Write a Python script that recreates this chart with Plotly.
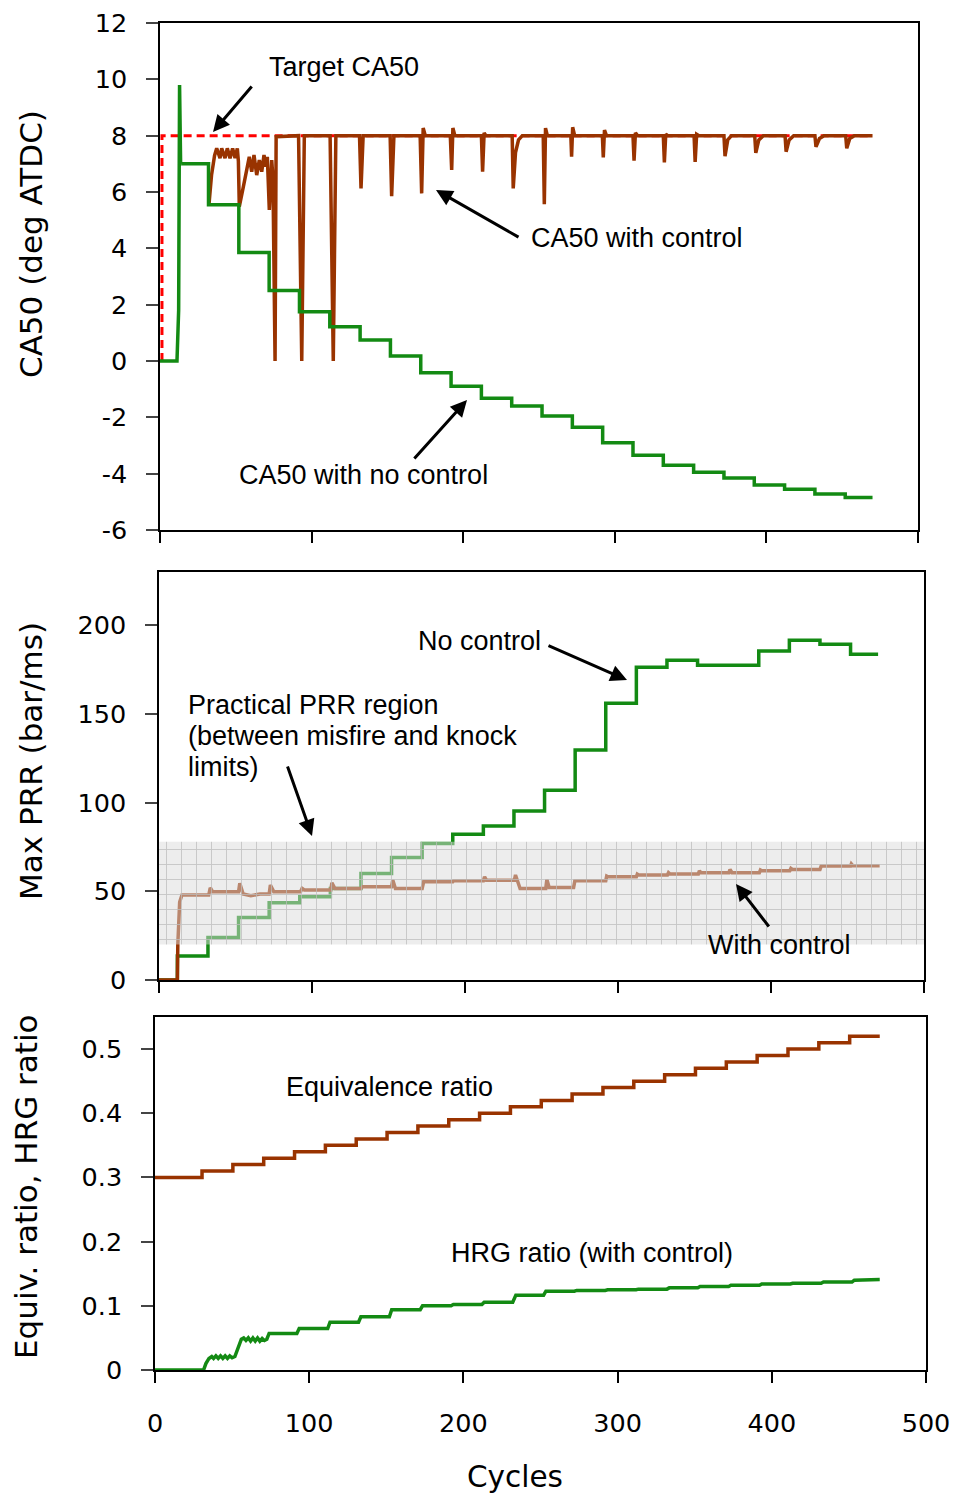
import plotly.graph_objects as go

W, H = 957, 1497

# ---------------- DATA ----------------
# Top panel: CA50 (deg ATDC)
target_x = [1.3, 1.3, 470]
target_y = [0, 8, 8]

nc_spike_x = [0, 11.2, 12.3, 12.9, 13.6, 14.4]
nc_spike_y = [0, 0, 1.8, 9.8, 7.0, 7.0]
nc_step_x = [14.4, 32, 52, 72, 92, 112, 132, 152, 172, 192, 212, 232, 252, 272, 292,
             312, 332, 352, 372, 392, 412, 432, 452, 470]
nc_step_y = [7.0, 5.55, 3.85, 2.5, 1.75, 1.22, 0.75, 0.18, -0.42, -0.9, -1.32, -1.6, -1.95,
             -2.35, -2.9, -3.35, -3.7, -3.95, -4.15, -4.4, -4.55, -4.72, -4.85, -4.85]

ctl_x = [32.3, 34, 36, 37.4, 39.6, 40.7, 42.9, 44.4, 46.2, 47.9, 49.5, 51, 51.7, 52.3,
         55, 57.2, 58.9, 60.5, 62, 63.8, 65.5, 67.1, 68.6, 69.9, 70.8, 72.1, 73.7, 74.5,
         75.9, 76.6, 91.4, 93.5, 95.2, 112.2, 114.3, 116, 131.6, 132.6, 134, 151.8, 152.8,
         154.3, 171.6, 172.6, 173.6, 175, 191.5, 192.4, 193.2, 194.5, 212, 212.8, 213.8,
         215, 232.3, 233, 234.5, 236.5, 239, 252.8, 253.5, 254.3, 255.5, 271, 271.5, 272.2,
         273.5, 291.8, 292.4, 293.2, 294.5, 312, 312.7, 313.6, 315, 332, 332.7, 333.6, 335,
         352.3, 353, 354, 355.5, 372, 372.7, 374.5, 377, 392.3, 393, 395, 398, 412.3, 413,
         415, 418, 432, 432.7, 435, 438, 452.3, 453, 455, 458, 470]
ctl_y = [5.55, 6.6, 7.3, 7.55, 7.2, 7.55, 7.2, 7.55, 7.2, 7.55, 7.2, 7.55, 7.1, 5.48,
         6.19, 6.78, 7.25, 6.72, 7.31, 6.6, 7.13, 6.72, 7.31, 6.9, 7.25, 5.36, 7.13, 6.5,
         0, 7.96, 8, 0, 8, 8, 0, 8, 8, 6.13, 8, 8, 5.85,
         8, 8, 5.95, 8.27, 8.0, 8, 6.78, 8.27, 8, 8, 6.72, 8.1,
         8, 8, 6.13, 7.4, 7.85, 8, 8, 5.57, 8.27, 8, 8, 7.25, 8.3,
         8, 8, 7.23, 8.2, 8, 8, 7.11, 8.1, 8, 8, 7.05, 8.05, 8,
         8, 7.07, 8.05, 8, 8, 7.27, 7.85, 8, 8, 7.39, 7.85, 8, 8, 7.43,
         7.85, 8, 8, 7.6, 7.9, 8, 8, 7.55, 7.9, 8, 8]

# Middle panel: Max PRR (bar/ms)
prr_nc_x = [0, 12, 32, 52, 72, 92, 112, 132, 152, 172, 192, 212, 232, 252, 272, 292,
            312, 332, 352, 372, 392, 412, 432, 452, 470]
prr_nc_y = [0, 13.5, 24, 35.3, 43.6, 46.9, 51.6, 60.1, 69.1, 77.0, 82.1, 86.8, 95.2, 107,
            129.6, 156, 176.3, 180.3, 177.5, 177.5, 185.4, 191.5, 189.3, 183.7, 183.7]

prr_c_x = [0, 12, 12.3, 12.8, 13.5, 15, 32.5, 33.5, 35, 52, 52.8, 55, 60, 66, 72, 72.8, 75,
           92.5, 93.5, 95, 112.3, 113, 115, 132, 133, 152, 152.8, 154.5, 172, 173, 192,
           192.5, 212, 212.8, 214, 232.3, 233, 236, 252.8, 253.5, 255, 271, 271.8, 292,
           292.6, 293.5, 312, 312.6, 313.5, 332.3, 333, 334, 352.5, 353.2, 354.2, 372.5,
           373.2, 374.5, 392.4, 393.1, 394, 412.3, 413, 414, 432, 432.8, 452, 452.5, 453.5,
           471]
prr_c_y = [0, 0, 20, 35, 44, 47.9, 47.9, 52, 49.8, 49.8, 54.5, 48.5, 47.5, 48.5, 48.5, 53.5,
           49.8, 49.8, 51.6, 50.7, 50.7, 54.8, 51.6, 51.6, 52.6, 52.6, 56.3, 51.6, 51.6, 55.4,
           55.4, 56, 56, 58.2, 56.3, 56.3, 59.2, 51.6, 51.6, 56.7, 52.2, 52.2, 56, 56,
           58.6, 58.2, 58.2, 59.7, 59.2, 59.2, 60.5, 59.7, 59.7, 61.6, 60.5, 60.5,
           62.3, 60.5, 60.5, 62, 61.6, 61.6, 62.9, 62.3, 62.3, 64.2, 64.2, 65.4, 64.4,
           64.4]

prr_region = [20, 78]

# Bottom panel: equivalence ratio and HRG ratio
phi_x = [0, 30.5, 50.5, 70.5, 90.5, 110.5, 130.5, 150.5, 170.5, 190.5, 210.5, 230.5,
         250.5, 270.5, 290.5, 310.5, 330.5, 350.5, 370.5, 390.5, 410.5, 430.5, 450.5, 470]
phi_y = [0.30, 0.31, 0.32, 0.33, 0.34, 0.35, 0.36, 0.37, 0.38, 0.39, 0.40, 0.41, 0.42,
         0.43, 0.44, 0.45, 0.46, 0.47, 0.48, 0.49, 0.50, 0.51, 0.52, 0.52]

hrg_x = [0, 31.5, 33, 35, 36.8, 38, 39.5, 41, 42.5, 44, 45.5, 47, 48.5, 50, 51.8, 54, 56,
         57.5, 59, 60.5, 62, 63.5, 65, 66.5, 68, 69.5, 71, 72.5, 74, 92, 93.5, 112, 113.5,
         132, 133.5, 152, 153.5, 172, 173.5, 192, 193.5, 212, 213.5, 232, 234, 252, 253.5,
         272, 273.5, 292, 293.5, 312, 313.5, 332, 333.5, 352, 353.5, 372, 373.5, 392, 393.5,
         412, 413.5, 432, 433.5, 452, 453.5, 470]
hrg_y = [0, 0, 0.01, 0.018, 0.021, 0.018, 0.022, 0.018, 0.022, 0.018, 0.022, 0.018, 0.022,
         0.019, 0.021, 0.035, 0.048, 0.05, 0.046, 0.05, 0.045, 0.05, 0.045, 0.05, 0.045,
         0.049, 0.046, 0.048, 0.057, 0.057, 0.0645, 0.0645, 0.0745, 0.0745, 0.083, 0.083,
         0.094, 0.094, 0.1, 0.1, 0.102, 0.102, 0.1057, 0.1057, 0.1166, 0.1166, 0.1228,
         0.1228, 0.124, 0.124, 0.125, 0.125, 0.126, 0.126, 0.128, 0.128, 0.130, 0.130,
         0.132, 0.132, 0.134, 0.134, 0.135, 0.135, 0.137, 0.137, 0.140, 0.141]

x_ticks = [0, 100, 200, 300, 400, 500]
y1_ticks = [-6, -4, -2, 0, 2, 4, 6, 8, 10, 12]
y1_labels = ["-6", "-4", "-2", "0", "2", "4", "6", "8", "10", "12"]
y2_ticks = [0, 50, 100, 150, 200]
y3_ticks = [0, 0.1, 0.2, 0.3, 0.4, 0.5]
y3_labels = ["0", "0.1", "0.2", "0.3", "0.4", "0.5"]

# ---------------- STYLE ----------------
BROWN = "#993300"
GREEN = "#138a13"
RED = "#ff0000"
TICKFONT = dict(family="DejaVu Sans", size=25.5, color="black")
TITLEFONT = dict(family="DejaVu Sans", size=31, color="black")
XTITLEFONT = dict(family="DejaVu Sans", size=29.5, color="black")
ANNFONT = dict(family="Liberation Sans, Arial", size=27, color="black")
LW = 3.5


def px(x):
    return x / W


def py(y):
    return 1 - y / H


fig = go.Figure()

# top
fig.add_trace(go.Scatter(x=target_x, y=target_y, mode="lines", xaxis="x", yaxis="y",
                         line=dict(color=RED, width=3, dash="8px,5px")))
fig.add_trace(go.Scatter(x=ctl_x, y=ctl_y, mode="lines", xaxis="x", yaxis="y",
                         line=dict(color=BROWN, width=LW)))
fig.add_trace(go.Scatter(x=nc_spike_x, y=nc_spike_y, mode="lines", xaxis="x", yaxis="y",
                         line=dict(color=GREEN, width=LW)))
fig.add_trace(go.Scatter(x=nc_step_x, y=nc_step_y, mode="lines", line_shape="hv",
                         xaxis="x", yaxis="y", line=dict(color=GREEN, width=LW)))

# middle
fig.add_trace(go.Scatter(x=prr_nc_x, y=prr_nc_y, mode="lines", line_shape="hv",
                         xaxis="x2", yaxis="y2", line=dict(color=GREEN, width=LW)))
fig.add_trace(go.Scatter(x=prr_c_x, y=prr_c_y, mode="lines", xaxis="x2", yaxis="y2",
                         line=dict(color=BROWN, width=LW)))
fig.add_trace(go.Scatter(x=[0, 500, 500, 0, 0],
                         y=[prr_region[0], prr_region[0], prr_region[1], prr_region[1], prr_region[0]],
                         mode="lines", fill="toself", xaxis="x2", yaxis="y2",
                         line=dict(width=0), fillcolor="rgba(220,220,220,0.5)",
                         fillpattern=dict(shape="+", size=15, solidity=0.12,
                                          fgcolor="#bdbdbd", fgopacity=0.8,
                                          bgcolor="rgba(220,220,220,0.5)")))

# bottom
fig.add_trace(go.Scatter(x=phi_x, y=phi_y, mode="lines", line_shape="hv",
                         xaxis="x3", yaxis="y3", line=dict(color=BROWN, width=LW)))
fig.add_trace(go.Scatter(x=hrg_x, y=hrg_y, mode="lines", xaxis="x3", yaxis="y3",
                         line=dict(color=GREEN, width=LW)))


def xax(d, anchor, labels):
    return dict(domain=d, anchor=anchor, range=[0, 500], tickvals=x_ticks,
                showticklabels=labels, ticks="outside", ticklen=11, tickwidth=1.5,
                tickcolor="black", showline=True, linecolor="black", linewidth=1.5,
                mirror=True, showgrid=False, zeroline=False, tickfont=TICKFONT,
                ticklabelstandoff=19, automargin=False)


def yax(d, anchor, rng, tv, tt):
    return dict(domain=d, anchor=anchor, range=rng, tickvals=tv, ticktext=tt,
                ticks="outside", ticklen=12, tickwidth=1.5, tickcolor="#444",
                showline=True, linecolor="black", linewidth=1.5, mirror=True,
                showgrid=False, zeroline=False, tickfont=TICKFONT, ticklabelstandoff=14,
                automargin=False)


anns = []


def text(t, x, y, xanchor="center", angle=0, font=ANNFONT):
    anns.append(dict(text=t, x=px(x), y=py(y), xref="paper", yref="paper",
                     xanchor=xanchor, yanchor="middle", showarrow=False,
                     textangle=angle, font=font))


def arrow(x0, y0, x1, y1):
    anns.append(dict(text="", x=px(x1), y=py(y1), xref="paper", yref="paper",
                     ax=x0 - x1, ay=y0 - y1, axref="pixel", ayref="pixel",
                     showarrow=True, arrowhead=2, arrowsize=1.1, arrowwidth=3,
                     arrowcolor="black", standoff=0))


text("CA50 (deg ATDC)", 31, 244, angle=-90, font=TITLEFONT)
text("Max PRR (bar/ms)", 31, 761, angle=-90, font=TITLEFONT)
text("Equiv. ratio, HRG ratio", 26, 1187, angle=-90, font=TITLEFONT)
text("Cycles", 515, 1477, font=XTITLEFONT)

text("Target CA50", 344, 67)
arrow(253, 85, 213, 132)
text("CA50 with control", 529, 238, xanchor="left")
arrow(520, 238, 436, 190)
text("CA50 with no control", 363, 475)
arrow(413, 460, 467, 400)

text("No control", 479, 641)
arrow(547, 645, 627, 680)
text("Practical PRR region", 186, 705, xanchor="left")
text("(between misfire and knock", 186, 736, xanchor="left")
text("limits)", 186, 767, xanchor="left")
arrow(287, 765, 312, 836)
text("With control", 779, 945)
arrow(770, 928, 736, 884)

text("Equivalence ratio", 389, 1087)
text("HRG ratio (with control)", 592, 1253)

fig.update_layout(
    width=W, height=H, margin=dict(l=0, r=0, t=0, b=0, pad=0),
    paper_bgcolor="white", plot_bgcolor="white", showlegend=False,
    xaxis=xax([px(160), px(918)], "y", False),
    yaxis=yax([py(530), py(23)], "x", [-6, 12], y1_ticks, y1_labels),
    xaxis2=xax([px(159), px(924)], "y2", False),
    yaxis2=yax([py(980), py(572)], "x2", [0, 230], y2_ticks, [str(v) for v in y2_ticks]),
    xaxis3=xax([px(155), px(926)], "y3", True),
    yaxis3=yax([py(1370), py(1017)], "x3", [0, 0.55], y3_ticks, y3_labels),
    annotations=anns,
)

fig.write_html("out.html", config={"displayModeBar": False},
               post_script="document.body.style.margin='0';document.body.style.overflow='hidden';")
